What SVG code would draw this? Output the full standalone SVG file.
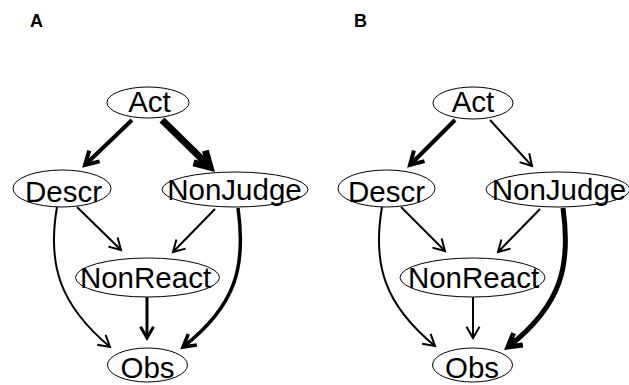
<svg xmlns="http://www.w3.org/2000/svg" width="629" height="385" viewBox="0 0 629 385">
<style>
.bg{fill:#fff}
.node ellipse{fill:#fff;stroke:#000;stroke-width:1}
.node text{font-family:"Liberation Sans",Arial,sans-serif;font-size:29.5px;fill:#000;text-anchor:middle}
.panel{font-family:"Liberation Sans",Arial,sans-serif;font-size:18px;font-weight:bold;fill:#000}
.e{fill:none;stroke:#000;stroke-linejoin:miter;stroke-miterlimit:4;stroke-linecap:butt}
.w2{stroke-width:2}
.w3{stroke-width:3}
.w35{stroke-width:3.5}
.w4{stroke-width:4}
.w5{stroke-width:5}
.w7{stroke-width:7}
</style>
<rect class="bg" x="0" y="0" width="629" height="385"/>
<text class="panel" x="30" y="27">A</text>
<text class="panel" x="354" y="27">B</text>
<g id="connectors">
  <!-- Panel A -->
  <g class="e w4"><path d="M132,120 L85,165"/><path d="M99.6,161.4 L85,165 L89.2,150.6"/></g>
  <g class="e w7"><path d="M162,120 L208,165"/><path d="M205.4,150.6 L210,167 L193.5,162.8"/></g>
  <g class="e w2"><path d="M77,207 L121,250"/><path d="M117.6,237.4 L121,250 L108.4,246.6"/></g>
  <g class="e w2"><path d="M215,209 L173,252"/><path d="M185.6,248.6 L173,252 L176.4,239.4"/></g>
  <g class="e w3"><path d="M147,297 L147,338"/><path d="M140.5,326.7 L147,338 L153.5,326.7"/></g>
  <g class="e w2"><path d="M57,207 C47,265 60,305 110,347"/><path d="M105.6,334.8 L110,347 L97.2,344.7"/></g>
  <g class="e w35"><path d="M238,208 C246,265 237,305 183,347"/><path d="M196.9,345.1 L183,347 L188.3,334"/></g>
  <!-- Panel B -->
  <g class="e w4"><path d="M455,120 L410,165"/><path d="M424.5,161.1 L410,165 L413.9,150.5"/></g>
  <g class="e w2"><path d="M490,120 L532,166"/><path d="M529.2,153.3 L532,166 L519.6,162.1"/></g>
  <g class="e w2"><path d="M401,207 L445,251"/><path d="M441.6,238.4 L445,251 L432.4,247.6"/></g>
  <g class="e w2"><path d="M540,209 L498,252"/><path d="M510.6,248.6 L498,252 L501.4,239.4"/></g>
  <g class="e w2"><path d="M473,297 L473,338"/><path d="M466.5,326.7 L473,338 L479.5,326.7"/></g>
  <g class="e w2"><path d="M382,207 C372,265 385,305 435,346"/><path d="M430.6,333.8 L435,346 L422.2,343.7"/></g>
  <g class="e w5"><path d="M563,208 C571,265 562,305 508,347"/><path d="M522.9,344.9 L508,347 L513.6,333.1"/></g>
</g>
<g id="A-Act" class="node"><ellipse cx="148" cy="102.5" rx="41" ry="15.5"/><text x="149.5" y="112">Act</text></g>
<g id="A-Descr" class="node"><ellipse cx="62" cy="188.5" rx="49" ry="18.5"/><text x="63.5" y="202">Descr</text></g>
<g id="A-NonJudge" class="node"><ellipse cx="235" cy="189.5" rx="73" ry="17.5"/><text x="234.5" y="200">NonJudge</text></g>
<g id="A-NonReact" class="node"><ellipse cx="147.5" cy="277.5" rx="72" ry="19.5"/><text x="145.5" y="288">NonReact</text></g>
<g id="A-Obs" class="node"><ellipse cx="147.5" cy="365" rx="40" ry="17"/><text x="147.5" y="378">Obs</text></g>
<g id="B-Act" class="node"><ellipse cx="473" cy="103" rx="40" ry="16"/><text x="473" y="112">Act</text></g>
<g id="B-Descr" class="node"><ellipse cx="386.5" cy="188.5" rx="48.5" ry="18.5"/><text x="386.5" y="202">Descr</text></g>
<g id="B-NonJudge" class="node"><ellipse cx="558" cy="189.5" rx="72" ry="17.5"/><text x="559" y="200">NonJudge</text></g>
<g id="B-NonReact" class="node"><ellipse cx="472.5" cy="277.5" rx="72.5" ry="19.5"/><text x="473.5" y="288">NonReact</text></g>
<g id="B-Obs" class="node"><ellipse cx="472.5" cy="365" rx="40" ry="17"/><text x="472" y="378">Obs</text></g>
</svg>
